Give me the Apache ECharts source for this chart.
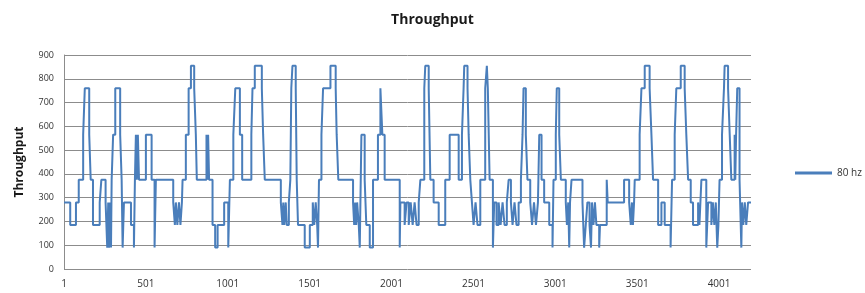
<!DOCTYPE html>
<html>
<head>
<meta charset="utf-8">
<script src="https://cdn.jsdelivr.net/npm/echarts@6/dist/echarts.min.js"></script>
<style>
html,body{margin:0;padding:0;background:#fff;}
#c{width:865px;height:293px;}
</style>
</head>
<body>
<div id="c"></div>
<script>
// Sample index (0-based) at which each constant run starts
const runStart = [
0,38,73,90,117,127,154,163,177,218,228,254,264,270,275,282,287,291,300,313,
343,352,358,366,409,427,433,439,445,451,458,500,535,553,561,667,677,683,692,702,
711,720,724,744,761,775,795,805,811,870,875,880,886,907,923,938,978,1003,1013,1034,
1046,1074,1088,1144,1151,1165,1208,1216,1226,1324,1334,1339,1345,1354,1360,1373,1382,1388,1395,1415,
1421,1429,1470,1501,1519,1528,1537,1546,1551,1557,1572,1582,1627,1659,1665,1675,1765,1772,1778,1784,
1790,1800,1806,1812,1816,1836,1846,1867,1887,1917,1932,1944,1958,2050,2054,2080,2092,2105,2117,2129,
2141,2153,2166,2176,2200,2206,2227,2237,2257,2288,2328,2355,2410,2430,2440,2444,2464,2471,2481,2491,
2501,2513,2525,2542,2572,2582,2588,2599,2619,2627,2641,2654,2666,2678,2690,2704,2715,2729,2739,2751,
2763,2776,2790,2800,2806,2820,2830,2847,2858,2870,2882,2894,2902,2916,2932,2963,2983,2989,3003,3009,
3024,3034,3064,3071,3079,3085,3090,3099,3166,3176,3186,3196,3209,3218,3224,3233,3242,3251,3268,3273,
3314,3320,3420,3451,3461,3468,3474,3481,3485,3515,3526,3546,3576,3587,3597,3628,3648,3668,3704,3713,
3729,3739,3766,3790,3800,3811,3827,3841,3872,3880,3886,3892,3922,3933,3953,3962,3971,3980,3989,3996,
4003,4018,4030,4034,4055,4065,4075,4095,4099,4104,4111,4125,4136,4140,4148,4157,4166,4177
];
// Throughput value of each run
const runValue = [
280,185,280,375,565,760,565,375,185,280,375,280,90,280,90,280,90,375,565,760,
565,375,90,280,185,90,375,565,375,565,375,565,375,90,375,280,185,280,185,280,
185,280,375,565,760,855,760,565,375,565,375,565,375,185,90,185,280,90,375,565,
760,565,375,565,760,855,760,565,375,280,185,280,185,280,185,280,375,760,855,760,
375,185,90,185,280,185,280,185,90,375,565,760,855,760,565,375,280,185,280,185,
280,185,90,375,565,375,185,90,375,565,760,565,375,90,280,185,280,185,280,185,
280,185,280,375,760,855,760,375,280,185,375,565,375,565,760,855,760,565,375,280,
185,280,185,375,760,855,760,375,90,280,185,280,185,280,185,280,375,280,185,280,
185,280,375,565,760,565,375,280,185,280,185,280,565,375,280,185,90,375,565,760,
565,375,280,185,280,90,280,375,280,90,185,280,185,90,280,185,280,185,90,185,
375,280,375,280,185,280,185,280,375,565,760,855,760,565,375,185,280,185,90,375,
565,760,855,760,565,375,280,185,280,185,280,375,90,280,185,280,185,280,90,185,
375,565,760,855,760,565,375,565,375,565,760,375,90,280,185,280,185,280
];
const lastIndex = 4195;
const yTicks = [0,100,200,300,400,500,600,700,800,900];
const seriesName = '80 hz';

const data = runStart.map((s, i) => [s, runValue[i]]);
data.push([lastIndex, runValue[runValue.length - 1]]);

const chart = echarts.init(document.getElementById('c'), null, {renderer: 'canvas'});
chart.setOption({
  animation: false,
  backgroundColor: '#fff',
  title: {
    text: 'Throughput',
    left: 'center',
    top: 8,
    textStyle: {fontFamily: 'Open Sans', fontWeight: 'bold', fontSize: 14, color: '#1a1a1a'}
  },
  legend: {
    data: [seriesName],
    left: 790,
    top: 163,
    icon: 'rect',
    itemWidth: 37,
    itemHeight: 3,
    itemGap: 4,
    textStyle: {fontFamily: 'Open Sans', fontSize: 10, color: '#333'}
  },
  grid: {left: 64, right: 114, top: 55, bottom: 24, containLabel: false},
  xAxis: {
    type: 'value',
    min: 0,
    max: lastIndex,
    interval: 500,
    axisLine: {show: false},
    axisTick: {show: false},
    splitLine: {show: false},
    axisLabel: {
      formatter: v => String(v + 1),
      showMaxLabel: false,
      margin: 10,
      fontFamily: 'Open Sans',
      fontSize: 10,
      color: '#333'
    }
  },
  yAxis: {
    type: 'value',
    name: 'Throughput',
    nameLocation: 'middle',
    nameGap: 38,
    nameTextStyle: {fontFamily: 'Open Sans', fontWeight: 'bold', fontSize: 12, color: '#1a1a1a'},
    min: yTicks[0],
    max: yTicks[yTicks.length - 1],
    interval: 100,
    axisLine: {show: true, lineStyle: {color: '#8c8c8c', width: 1}},
    axisTick: {show: false},
    splitLine: {show: true, lineStyle: {color: '#8c8c8c', width: 1}},
    axisLabel: {margin: 10, fontFamily: 'Open Sans', fontSize: 9, color: '#333'}
  },
  series: [{
    name: seriesName,
    type: 'line',
    step: 'end',
    data: data,
    showSymbol: false,
    symbol: 'none',
    lineStyle: {color: '#4a7ebb', width: 2},
    itemStyle: {color: '#4a7ebb'}
  }]
});
</script>
</body>
</html>
